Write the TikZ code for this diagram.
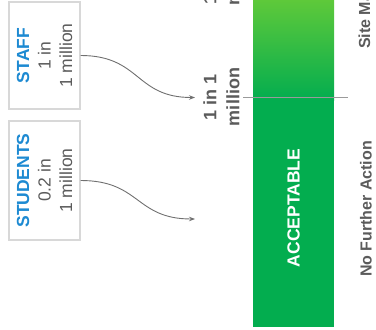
\documentclass[tikz,border=0pt]{standalone}
\usepackage{fontspec}
\setmainfont{Liberation Sans}
\usetikzlibrary{arrows.meta}
\definecolor{barg}{HTML}{03AD4F}
\definecolor{barlight}{HTML}{5EC93A}
\definecolor{blueT}{HTML}{1D8AD2}
\definecolor{txtg}{HTML}{5B5B5B}
\definecolor{boxline}{HTML}{D8D8D8}
\definecolor{connc}{HTML}{707070}
\definecolor{linec}{HTML}{9A9A9A}
\begin{document}
\begin{tikzpicture}[x=1pt,y=-1pt,
  box/.style={draw=boxline, line width=1.3pt, inner sep=0pt, fill=white},
  vtext/.style={rotate=90, align=center, inner sep=0pt, font=\fontsize{17.5}{21.5}\selectfont, text=txtg},
  lbl/.style={rotate=90, align=center, inner sep=0pt, font=\bfseries\fontsize{18}{23}\selectfont, text=txtg},
  side/.style={rotate=90, inner sep=0pt, font=\bfseries\fontsize{16}{19}\selectfont, text=txtg},
  bartext/.style={rotate=90, inner sep=0pt, font=\bfseries\fontsize{17.5}{21}\selectfont, text=white},
  conn/.style={draw=connc, line width=0.9pt, -{Stealth[length=6pt,width=4.5pt]}},
  thresh/.style={draw=linec, line width=0.8pt}
]
\useasboundingbox (0,0) rectangle (376,330);
\clip (0,0) rectangle (376,330);

% boxes
\node[box, minimum width=71pt, minimum height=107pt] (staff) at (44.5,55.5) {};
\node[vtext] (stafft) at (staff.center) {\textbf{\textcolor{blueT}{STAFF}}\\1 in\\1 million};
\node[box, minimum width=71pt, minimum height=119pt] (stud) at (44.5,180.5) {};
\node[vtext] (studt) at (stud.center) {\textbf{\textcolor{blueT}{STUDENTS}}\\0.2 in\\1 million};

% bar
\node[inner sep=0pt, fill=barg, minimum width=81pt, minimum height=327pt] (bar) at (293.5,163.5) {};
\shade[top color=barlight, bottom color=barg] (253,0) rectangle (334,100);
\node[bartext] (acc) at (293.5,208) {ACCEPTABLE};

% threshold line
\draw[thresh] (243,97.5) -- (348,97.5);

% labels
\node[lbl] (l1) at (221.5,97) {1 in 1\\million};
\node[lbl] (l0) at (221.5,-24) {1 in 10\\million};
\node[side] (nfa) at (366,209) {No Further Action};
\node[side, anchor=west] (site) at (366,49) {Site Management};

% connectors
\coordinate (t1) at (195,97.5);
\coordinate (t2) at (195,219);
\draw[conn] (staff.east) .. controls +(60,0) and +(-60,0) .. (t1);
\draw[conn] (stud.east) .. controls +(60,0) and +(-60,0) .. (t2);
\end{tikzpicture}
\end{document}
